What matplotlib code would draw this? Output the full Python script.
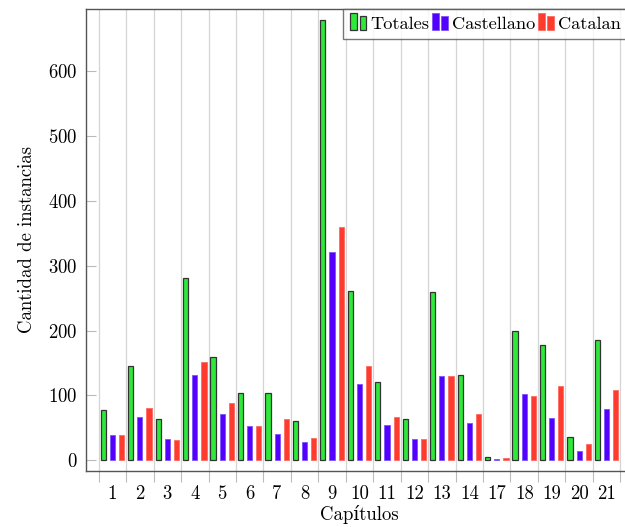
import matplotlib
matplotlib.use("Agg")
import matplotlib.pyplot as plt
from matplotlib.legend_handler import HandlerBase
from matplotlib.patches import Rectangle
import numpy as np

plt.rcParams['font.family'] = ['cmr10', 'DejaVu Serif']
plt.rcParams['axes.formatter.use_mathtext'] = True
plt.rcParams['mathtext.fontset'] = 'cm'

categories = ['1', '2', '3', '4', '5', '6', '7', '8', '9', '10', '11', '12', '13', '14',
              '17', '18', '19', '20', '21']
totales = [78, 145, 63, 281, 159, 104, 103, 60, 679, 261, 120, 63, 259, 131, 5, 199, 178, 36, 186]
castellano = [39, 67, 33, 131, 72, 53, 41, 28, 321, 117, 55, 33, 130, 58, 2, 102, 65, 14, 79]
catalan = [39, 80, 31, 151, 88, 53, 64, 34, 360, 145, 67, 33, 130, 72, 3, 99, 115, 25, 108]
series_names = ['Totales', 'Castellano', 'Catalan']
yticks = [0, 100, 200, 300, 400, 500, 600]

green = '#2ee83a'
blue = '#5500ff'
red = '#ff3b30'

W, H = 625, 527
fig = plt.figure(figsize=(W / 100, H / 100), dpi=100)
ax = fig.add_axes([86 / W, 1 - 470.7 / H, (633 - 86) / W, (470.7 - 9) / H])

x = np.arange(1, len(categories) + 1)
bw = 0.19
off = 0.335
ax.bar(x - off, totales, bw, color=green, edgecolor='#333333', linewidth=0.9, zorder=3)
ax.bar(x, castellano, bw, color=blue, edgecolor='#7a55ff', linewidth=0.6, zorder=3)
ax.bar(x + off, catalan, bw, color=red, edgecolor='#ff6a60', linewidth=0.6, zorder=3)

ax.set_xlim(0.038, len(categories) + 0.962)
ax.set_ylim(-16, 695.6)

ax.set_xticks(x)
ax.set_xticklabels(categories)
ax.set_xticks(np.arange(0.5, len(categories) + 1, 1), minor=True)
ax.tick_params(axis='x', which='major', length=0, labelsize=13.5, pad=10)
ax.tick_params(axis='x', which='minor', length=8, width=0.8, color='#bbbbbb', direction='out')
ax.grid(True, axis='x', which='minor', color='#d4d4d4', linewidth=0.9, zorder=0)

ax.set_yticks(yticks)
ax.tick_params(axis='y', which='major', length=7, width=0.8, color='#bbbbbb', direction='in',
               labelsize=13.5, pad=6)

for s in ax.spines.values():
    s.set_color('#555555')
    s.set_linewidth(1.0)

ax.set_xlabel('Capítulos', fontsize=13.5, labelpad=2)
ax.set_ylabel('Cantidad de instancias', fontsize=13.5, labelpad=9)


class BarHandler(HandlerBase):
    def __init__(self, color, edge, lw):
        super().__init__()
        self.color = color
        self.edge = edge
        self.lw = lw

    def create_artists(self, legend, orig_handle, xdescent, ydescent, width, height, fontsize, trans):
        bwid = width * 0.42
        arts = []
        for i, h in enumerate([1.3, 1.1]):
            r = Rectangle((-xdescent + i * width * 0.58, -ydescent - height * 0.1), bwid, height * h,
                          facecolor=self.color, edgecolor=self.edge, linewidth=self.lw,
                          transform=trans)
            arts.append(r)
        return arts


h1 = Rectangle((0, 0), 1, 1)
h2 = Rectangle((0, 0), 1, 1)
h3 = Rectangle((0, 0), 1, 1)
leg = fig.legend([h1, h2, h3], series_names, loc='upper left',
                 bbox_to_anchor=(343 / W, 1 - 9 / H), borderaxespad=0, ncol=3,
                 fontsize=13.2, frameon=True, fancybox=False, handlelength=0.9,
                 handletextpad=0.22, columnspacing=0.12, borderpad=0.38,
                 handler_map={h1: BarHandler(green, '#333333', 0.9),
                              h2: BarHandler(blue, '#7a55ff', 0.6),
                              h3: BarHandler(red, '#ff6a60', 0.6)})
leg.get_frame().set_edgecolor('#555555')
leg.get_frame().set_linewidth(1.0)

fig.savefig('out.png', dpi=100)
